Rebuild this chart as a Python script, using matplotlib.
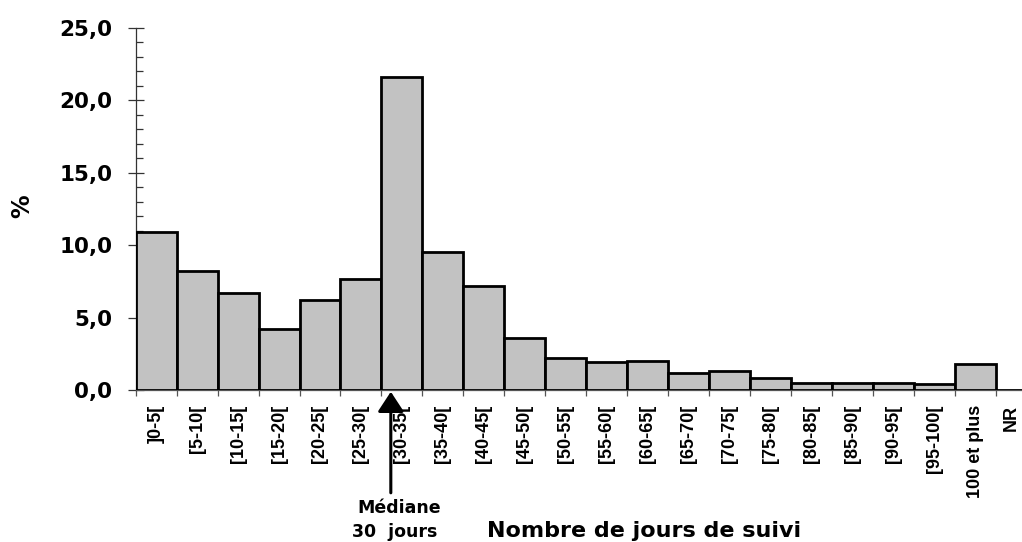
import matplotlib
matplotlib.use("Agg")
import matplotlib.pyplot as plt
import matplotlib.transforms as mtransforms
import numpy as np

# Data
categories = ["]0-5[", "[5-10[", "[10-15[", "[15-20[", "[20-25[", "[25-30[",
              "[30-35[", "[35-40[", "[40-45[", "[45-50[", "[50-55[", "[55-60[",
              "[60-65[", "[65-70[", "[70-75[", "[75-80[", "[80-85[", "[85-90[",
              "[90-95[", "[95-100[", "100 et plus", "NR"]
percent = [10.9, 8.2, 6.7, 4.2, 6.2, 7.7, 21.6, 9.5, 7.2, 3.6, 2.2, 1.9,
           2.0, 1.2, 1.3, 0.8, 0.5, 0.5, 0.5, 0.4, 1.8, 0.0]
yticks = [0, 5, 10, 15, 20, 25]
ytick_labels = ["0,0", "5,0", "10,0", "15,0", "20,0", "25,0"]
median_pos = 6.23  # position of the median arrow in bin units

W, H = 1022, 542
fig = plt.figure(figsize=(W / 100, H / 100), dpi=100)
# axes placed in pixel terms; right edge runs past the figure like the original
ax = fig.add_axes([135.7 / W, (H - 390) / H, 22 * 40.95 / W, 362 / H])

x = np.arange(len(categories))
ax.bar(x + 0.5, percent, width=1.0, color="#c2c2c2", edgecolor="black",
       linewidth=2.0, zorder=3)

ax.set_xlim(0, len(categories))
ax.set_ylim(0, 25)

for s in ["top", "right"]:
    ax.spines[s].set_visible(False)
ax.spines["left"].set_color("#333333")
ax.spines["left"].set_linewidth(0.9)
ax.spines["bottom"].set_color("#555555")
ax.spines["bottom"].set_linewidth(0.9)

# y axis
ax.set_yticks(yticks)
ax.set_yticklabels(ytick_labels, fontfamily="DejaVu Sans", fontweight="bold",
                   fontsize=15.5)
ax.set_yticks(np.arange(0, 26, 1), minor=True)
ax.tick_params(axis="y", which="major", direction="inout", length=12,
               width=0.9, color="#333333", pad=11)
ax.tick_params(axis="y", which="minor", direction="in", length=5,
               width=0.9, color="#333333")

# x axis: ticks at bin edges, labels at bin centres
ax.set_xticks(np.arange(0, len(categories) + 1))
ax.set_xticklabels([])
ax.set_xticks(x + 0.5, minor=True)
labels = ax.set_xticklabels(categories, minor=True, rotation=90,
                            fontfamily="Liberation Sans", fontweight="bold",
                            fontsize=13)
ax.tick_params(axis="x", which="major", direction="out", length=4.5,
               width=0.9, color="#555555")
ax.tick_params(axis="x", which="minor", length=0, pad=10.5)

# NR label sits a bit left of its bin centre in the original (keeps it inside)
nr_shift = mtransforms.ScaledTranslation(-5 / 100, 0, fig.dpi_scale_trans)
labels[-1].set_transform(labels[-1].get_transform() + nr_shift)

# median arrow
ax.annotate("", xy=(median_pos, -0.12), xytext=(median_pos, -7.1),
            xycoords="data", annotation_clip=False,
            arrowprops=dict(arrowstyle="-|>,head_length=0.61,head_width=0.4",
                            mutation_scale=20, lw=2.2, color="black",
                            shrinkA=0, shrinkB=0))

fig.text(399.5 / W, (H - 513) / H, "Médiane", ha="center", va="baseline",
         fontfamily="DejaVu Sans", fontweight="bold", fontsize=12.5)
fig.text(395 / W, (H - 537) / H, "30  jours", ha="center", va="baseline",
         fontfamily="DejaVu Sans", fontweight="bold", fontsize=12.5)
fig.text(644 / W, (H - 537) / H, "Nombre de jours de suivi", ha="center",
         va="baseline", fontfamily="DejaVu Sans", fontweight="bold",
         fontsize=16)
fig.text(22 / W, (H - 206) / H, "%", ha="center", va="center", rotation=90,
         fontfamily="DejaVu Sans", fontweight="bold", fontsize=17)

fig.savefig("out.png", dpi=100)
